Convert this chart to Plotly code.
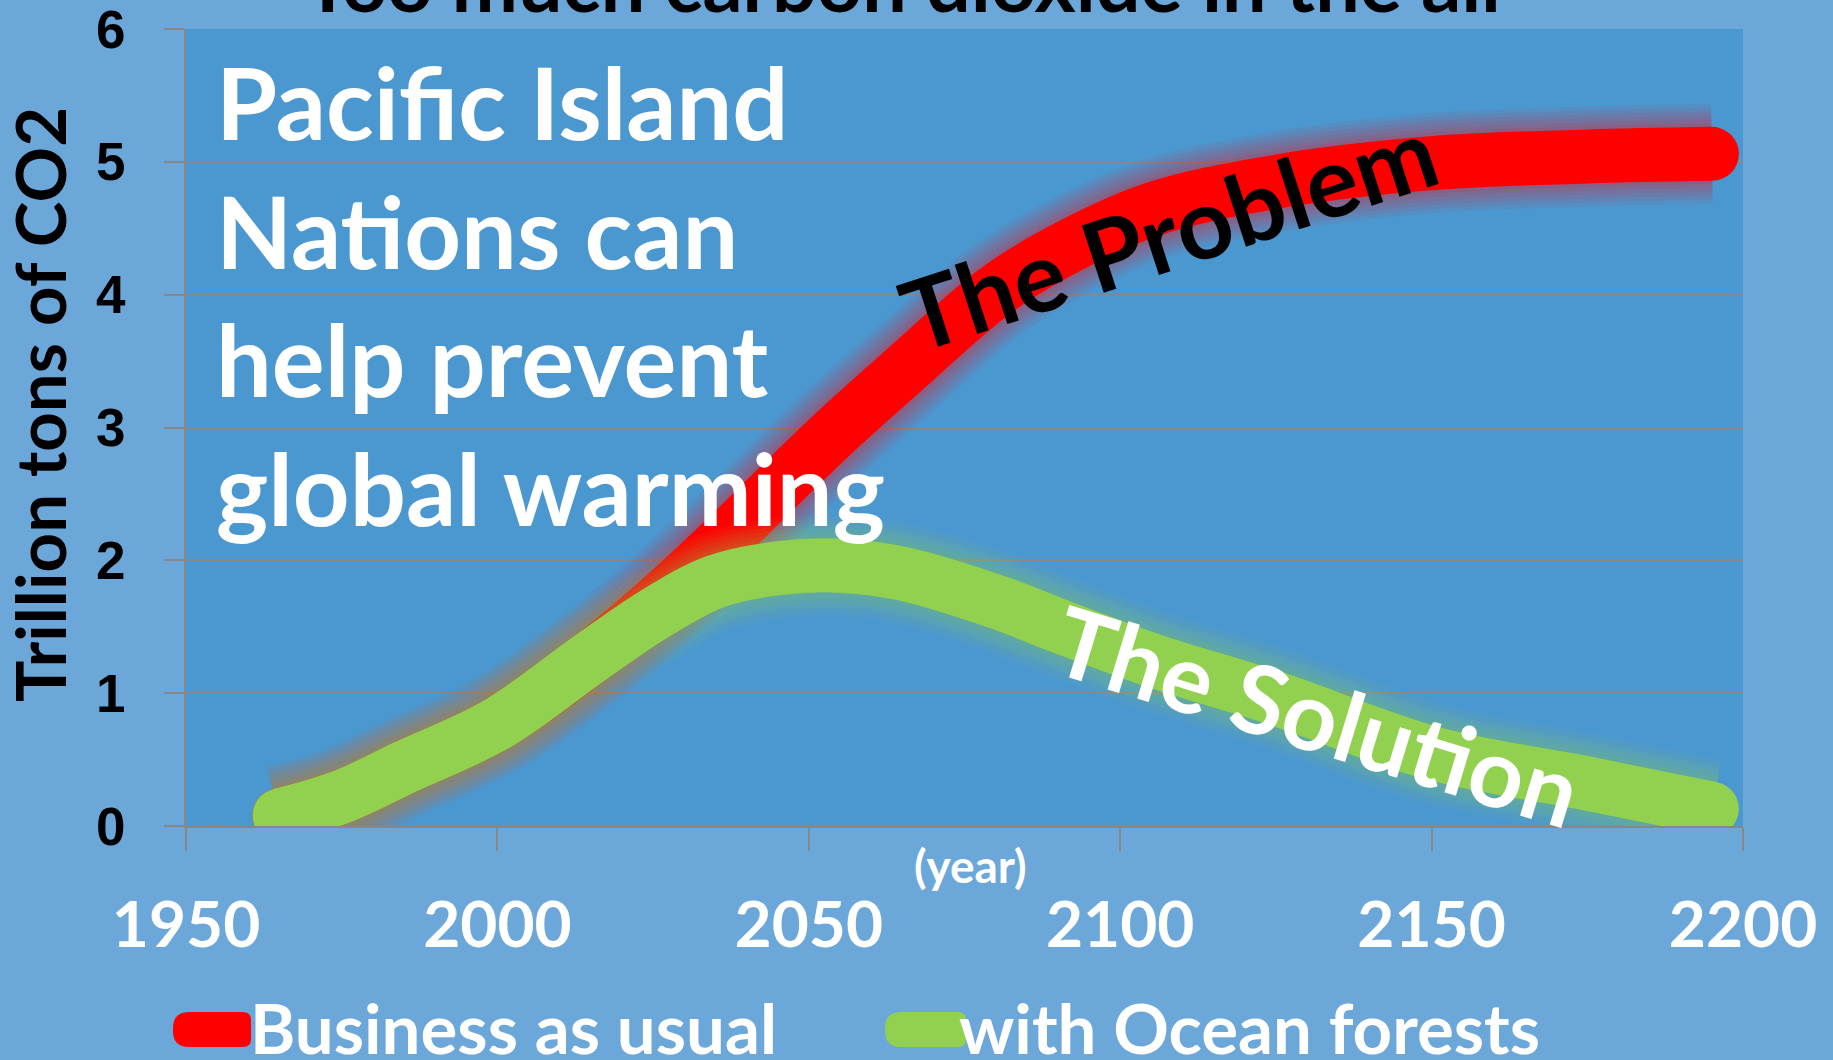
import plotly.graph_objects as go

# ---------------- data ----------------
years = [1965, 1975, 1985, 2000, 2015, 2025, 2035, 2045, 2055, 2065, 2080, 2090, 2105, 2125, 2150, 2175, 2195]
business_as_usual = [0.08, 0.22, 0.44, 0.77, 1.27, 1.66, 2.09, 2.55, 3.00, 3.42, 4.03, 4.32, 4.64, 4.85, 4.99, 5.04, 5.06]
ocean_forests = [0.08, 0.22, 0.44, 0.77, 1.27, 1.59, 1.84, 1.94, 1.96, 1.90, 1.69, 1.51, 1.25, 0.96, 0.55, 0.32, 0.13]
series_names = ["Business as usual", "with Ocean forests"]
x_tick_values = [1950, 2000, 2050, 2100, 2150, 2200]
y_tick_values = [0, 1, 2, 3, 4, 5, 6]

# ---------------- style ----------------
W, H = 1833, 1060
ML, MR, MT, MB = 186, 90, 29, 234
PW, PH = W - ML - MR, H - MT - MB
PAPER_BG = "#6CA7DA"
PLOT_BG = "#4B97D0"
GRID = "#878787"
RED = "#FF0000"
GREEN = "#92D050"
LW = 54
FONT = "Lato"


def px_to_paper(px, py):
    return (px - ML) / PW, (MT + PH - py) / PH


def rounded_rect(px0, py0, px1, py1, rl, rr):
    def p(x, y):
        a, b = px_to_paper(x, y)
        return f"{a:.5f},{b:.5f}"
    return (f"M {p(px0 + rl, py0)} L {p(px1 - rr, py0)} Q {p(px1, py0)} {p(px1, py0 + rr)} "
            f"L {p(px1, py1 - rr)} Q {p(px1, py1)} {p(px1 - rr, py1)} "
            f"L {p(px0 + rl, py1)} Q {p(px0, py1)} {p(px0, py1 - rl)} "
            f"L {p(px0, py0 + rl)} Q {p(px0, py0)} {p(px0 + rl, py0)} Z")


fig = go.Figure()

# soft glow: stacked translucent strokes of decreasing width
glow_layers = [(46, 0.06), (38, 0.06), (30, 0.07), (22, 0.07), (14, 0.08), (7, 0.08)]


def add_series(values, name, color_rgb, color_hex):
    for extra, alpha in glow_layers:
        fig.add_trace(go.Scatter(
            x=years, y=values, mode="lines", showlegend=False, hoverinfo="skip",
            line=dict(color=f"rgba({color_rgb},{alpha})", width=LW + extra, shape="spline", smoothing=1.0),
        ))
    fig.add_trace(go.Scatter(
        x=years, y=values, mode="lines", name=name,
        line=dict(color=color_hex, width=LW, shape="spline", smoothing=1.0),
    ))
    fig.add_trace(go.Scatter(
        x=[years[0], years[-1]], y=[values[0], values[-1]], mode="markers",
        showlegend=False, hoverinfo="skip",
        marker=dict(color=color_hex, size=LW, line=dict(width=0)),
    ))


add_series(business_as_usual, series_names[0], "255,0,0", RED)
add_series(ocean_forests, series_names[1], "146,208,80", GREEN)

bold = dict(family=FONT, weight=700)

annotations = [
    dict(text="Too much carbon dioxide in the air", xref="paper", yref="paper",
         x=px_to_paper(907, 0)[0], y=px_to_paper(0, 31)[1], xanchor="center", yanchor="bottom",
         showarrow=False, font=dict(size=79, color="black", **bold)),
    dict(text="Pacific Island<br>Nations can<br>help prevent<br>global warming", xref="paper", yref="paper",
         x=px_to_paper(214, 0)[0], y=px_to_paper(0, 40)[1], xanchor="left", yanchor="top", align="left",
         showarrow=False, font=dict(size=99, color="white", **bold)),
    dict(text="The Problem", xref="paper", yref="paper",
         x=px_to_paper(1168, 0)[0], y=px_to_paper(0, 232)[1], xanchor="center", yanchor="middle",
         textangle=-18, showarrow=False, font=dict(size=98, color="black", **bold)),
    dict(text="The Solution", xref="paper", yref="paper",
         x=px_to_paper(1318, 0)[0], y=px_to_paper(0, 714)[1], xanchor="center", yanchor="middle",
         textangle=17, showarrow=False, font=dict(size=96, color="white", **bold)),
    dict(text="(year)", xref="paper", yref="paper",
         x=px_to_paper(970, 0)[0], y=px_to_paper(0, 865)[1], xanchor="center", yanchor="middle",
         showarrow=False, font=dict(size=46, color="white", **bold)),
    dict(text="Trillion tons of CO2", xref="paper", yref="paper",
         x=px_to_paper(39, 0)[0], y=px_to_paper(0, 405)[1], xanchor="center", yanchor="middle",
         textangle=-90, showarrow=False, font=dict(size=69, color="black", **bold)),
]

shapes = [
    dict(type="path", xref="paper", yref="paper", path=rounded_rect(173, 1012, 251, 1047, 16, 8),
         fillcolor=RED, line=dict(width=0), layer="above"),
    dict(type="path", xref="paper", yref="paper", path=rounded_rect(885, 1012, 966, 1047, 16, 8),
         fillcolor=GREEN, line=dict(width=0), layer="above"),
]

fig.update_layout(
    width=W, height=H,
    margin=dict(l=ML, r=MR, t=MT, b=MB, autoexpand=False),
    paper_bgcolor=PAPER_BG, plot_bgcolor=PLOT_BG,
    annotations=annotations, shapes=shapes,
    showlegend=True,
    legend=dict(orientation="h", xref="paper", yref="paper",
                x=px_to_paper(210, 0)[0], y=px_to_paper(0, 1027)[1],
                xanchor="left", yanchor="middle",
                font=dict(size=69, color="white", **bold),
                bgcolor="rgba(0,0,0,0)", itemwidth=30,
                entrywidth=664, entrywidthmode="pixels"),
    xaxis=dict(range=[1950, 2200], tickvals=x_tick_values, ticks="outside", ticklen=23,
               tickwidth=2, tickcolor=GRID, showline=True, linecolor=GRID, linewidth=2,
               showgrid=False, zeroline=False, ticklabelstandoff=19, ticklabeloverflow="allow",
               tickfont=dict(size=64, color="white", **bold)),
    yaxis=dict(range=[0, 6], tickvals=y_tick_values, ticks="outside", ticklen=20,
               tickwidth=2, tickcolor=GRID, showline=True, linecolor=GRID, linewidth=2,
               showgrid=True, gridcolor=GRID, gridwidth=2, zeroline=False,
               ticklabelstandoff=28, ticklabeloverflow="allow",
               tickfont=dict(size=53, color="black", family="Liberation Sans", weight=700)),
)

fig.write_html("out.html", config={"displayModeBar": False},
               post_script="document.body.style.margin='0';")
